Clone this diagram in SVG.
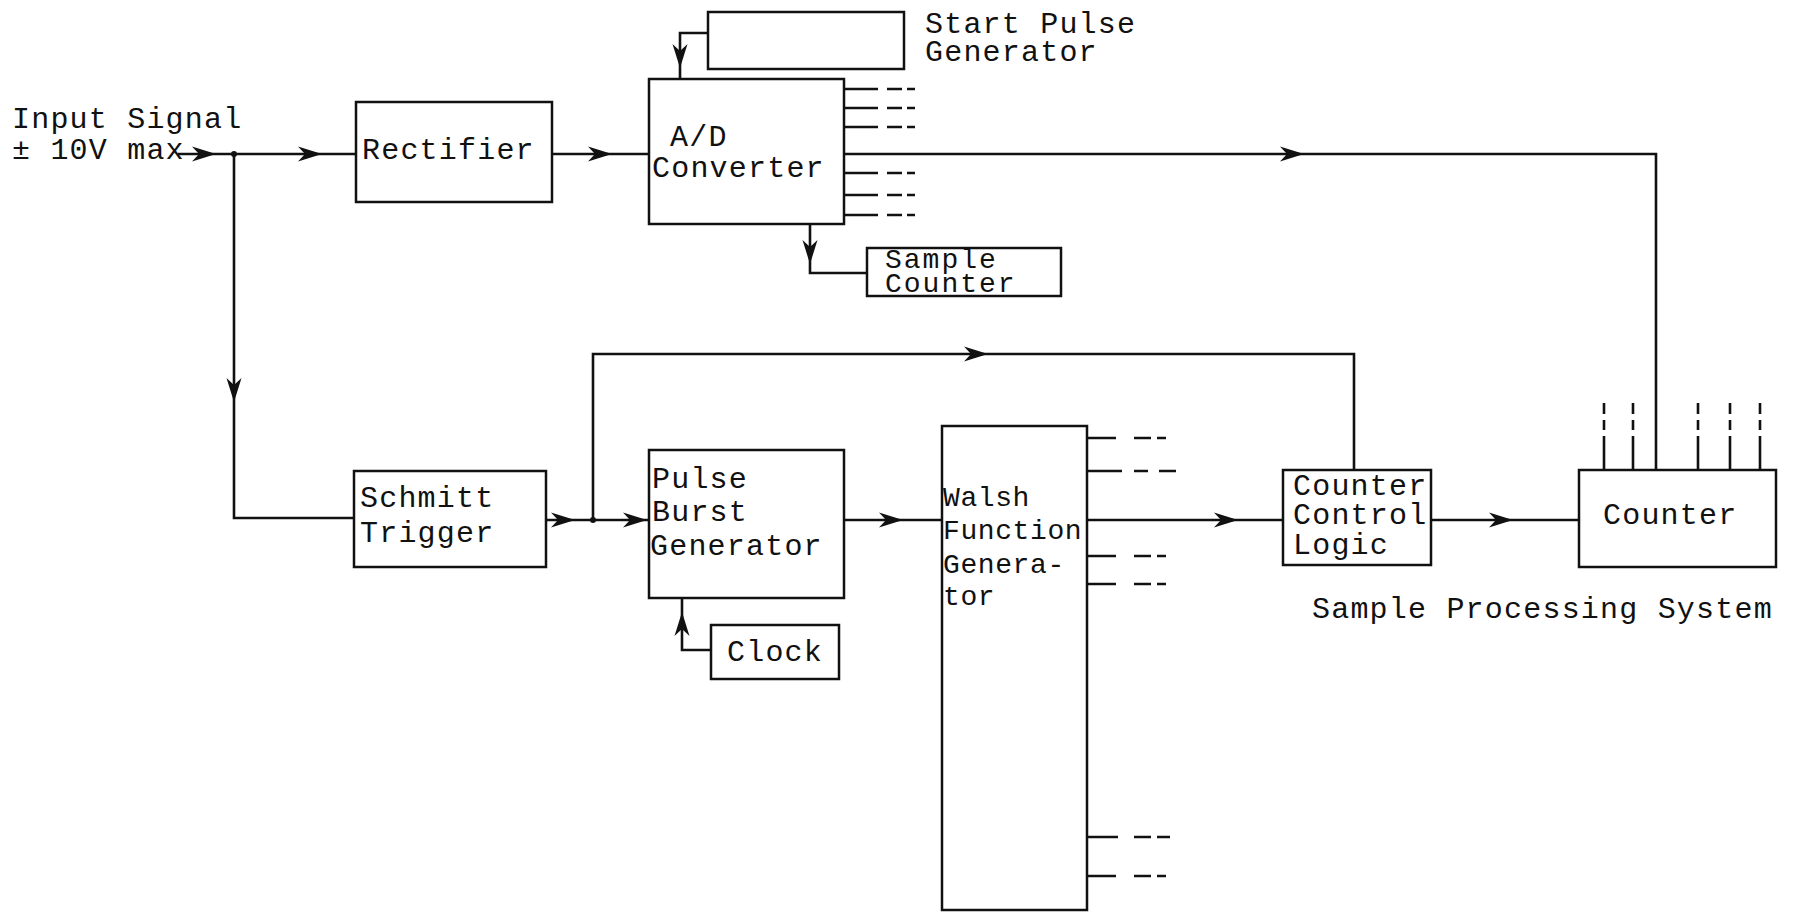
<svg xmlns="http://www.w3.org/2000/svg" width="1797" height="912" viewBox="0 0 1797 912">
<style>
  .box{fill:#fff;stroke:#111;stroke-width:2.5}
  .ln{fill:none;stroke:#111;stroke-width:2.6}
  text{font-family:"Liberation Mono","Courier New",monospace;font-size:30px;letter-spacing:1.2px;fill:#111}
  .w{font-size:28px;letter-spacing:0.6px}
  .s{font-size:28px;letter-spacing:2px}
</style>
<defs>
  <path id="ah" d="M0,0 L-24,-7.5 L-17,0 L-24,7.5 Z" fill="#111"/>
</defs>
<rect width="1797" height="912" fill="#fff"/>

<g id="labels">
  <text x="12" y="128">Input Signal</text>
  <text x="12" y="159">± 10V max</text>
  <text x="1312" y="618">Sample Processing System</text>
</g>

<g id="rectifier"><rect class="box" x="356" y="102" width="196" height="100"/><text x="362" y="159">Rectifier</text></g>
<g id="start-pulse"><rect class="box" x="708" y="12" width="196" height="57"/><text x="925" y="33">Start Pulse</text><text x="925" y="61">Generator</text></g>
<g id="ad"><rect class="box" x="649" y="79" width="195" height="145"/><text x="670" y="146">A/D</text><text x="652" y="177">Converter</text></g>
<g id="sample-counter"><rect class="box" x="867" y="248" width="194" height="48"/><text class="s" x="885" y="268">Sample</text><text class="s" x="885" y="292">Counter</text></g>
<g id="schmitt"><rect class="box" x="354" y="471" width="192" height="96"/><text x="360" y="507">Schmitt</text><text x="360" y="542">Trigger</text></g>
<g id="pbg"><rect class="box" x="649" y="450" width="195" height="148"/><text x="652" y="488">Pulse</text><text x="652" y="521">Burst</text><text x="650" y="555">Generator</text></g>
<g id="clock"><rect class="box" x="711" y="625" width="128" height="54"/><text x="727" y="661">Clock</text></g>
<g id="walsh"><rect class="box" x="942" y="426" width="145" height="484"/><text class="w" x="943" y="506">Walsh</text><text class="w" x="943" y="539">Function</text><text class="w" x="943" y="573">Genera-</text><text class="w" x="943" y="605">tor</text></g>
<g id="ccl"><rect class="box" x="1283" y="470" width="148" height="95"/><text x="1293" y="495">Counter</text><text x="1293" y="524">Control</text><text x="1293" y="554">Logic</text></g>
<g id="counter"><rect class="box" x="1579" y="470" width="197" height="97"/><text x="1603" y="524">Counter</text></g>

<g id="connectors">
  <path class="ln" d="M178,154 H356"/>
  <use href="#ah" transform="translate(216,154)"/>
  <use href="#ah" transform="translate(322,154)"/>
  <circle cx="234" cy="154" r="3" fill="#111"/>
  <path class="ln" d="M234,154 V518 H354"/>
  <use href="#ah" transform="translate(234,402) rotate(90)"/>
  <path class="ln" d="M552,154 H649"/>
  <use href="#ah" transform="translate(612,154)"/>
  <path class="ln" d="M708,33 H680 V79"/>
  <use href="#ah" transform="translate(680,68) rotate(90)"/>
  <path class="ln" d="M810,224 V273 H867"/>
  <use href="#ah" transform="translate(810,264) rotate(90)"/>
  <path class="ln" d="M844,154 H1656 V470"/>
  <use href="#ah" transform="translate(1304,154)"/>
  <path class="ln" d="M844,89 H878 M844,108 H878 M844,127 H878 M844,173 H878 M844,195 H878 M844,215 H878"/>
  <path class="ln" d="M887,89 H902 M907,89 H915 M887,108 H902 M907,108 H915 M887,127 H902 M907,127 H915 M887,173 H902 M907,173 H915 M887,195 H902 M907,195 H915 M887,215 H902 M907,215 H915"/>
  <path class="ln" d="M546,520 H649"/>
  <use href="#ah" transform="translate(575,520)"/>
  <use href="#ah" transform="translate(647,520)"/>
  <circle cx="593" cy="520" r="3" fill="#111"/>
  <path class="ln" d="M593,520 V354 H1354 V470"/>
  <use href="#ah" transform="translate(988,354)"/>
  <path class="ln" d="M711,650 H682 V598"/>
  <use href="#ah" transform="translate(682,612) rotate(-90)"/>
  <path class="ln" d="M844,520 H942"/>
  <use href="#ah" transform="translate(903,520)"/>
  <path class="ln" d="M1087,520 H1283"/>
  <use href="#ah" transform="translate(1238,520)"/>
  <path class="ln" d="M1087,438 H1116 M1087,471 H1122 M1087,556 H1116 M1087,584 H1116 M1087,837 H1118 M1087,876 H1116"/>
  <path class="ln" d="M1134,438 H1151 M1157,438 H1166 M1134,471 H1148 M1159,471 H1176 M1134,556 H1151 M1157,556 H1166 M1134,584 H1151 M1157,584 H1166 M1134,837 H1151 M1157,837 H1170 M1134,876 H1151 M1157,876 H1166"/>
  <path class="ln" d="M1431,520 H1579"/>
  <use href="#ah" transform="translate(1513,520)"/>
  <path class="ln" d="M1604,436 V470 M1633,436 V470 M1698,436 V470 M1730,436 V470 M1760,436 V470"/>
  <path class="ln" d="M1604,403 V414 M1604,420 V430 M1633,403 V414 M1633,420 V430 M1698,403 V414 M1698,420 V430 M1730,403 V414 M1730,420 V430 M1760,403 V414 M1760,420 V430"/>
</g>
</svg>
